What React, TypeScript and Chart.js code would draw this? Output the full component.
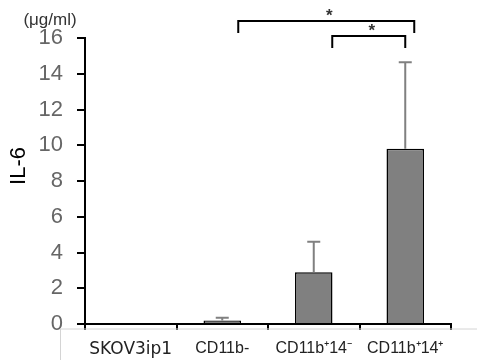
import React, { useEffect, useRef } from "react";
import { Chart, registerables } from "chart.js";

Chart.register(...registerables);

const categories = ["SKOV3ip1", "CD11b-", "CD11b\u207A14\u207B", "CD11b\u207A14\u207A"];
const means = [0, 0.2, 2.9, 9.8];
const errors = [0, 0.15, 1.7, 4.85];
const yMin = 0;
const yMax = 16;
const yStep = 2;
const comparisons: [number, number][] = [
  [1, 3],
  [2, 3],
];
const compLabels = ["*", "*"];
const unitLabel = "(\u03BCg/ml)";
const yTitle = "IL-6";

const annotatePlugin = {
  id: "annotate",
  afterDatasetsDraw(chart: any) {
    const { ctx } = chart;
    const x = chart.scales.x;
    const y = chart.scales.y;
    ctx.save();
    ctx.strokeStyle = "#808080";
    ctx.lineWidth = 2;
    means.forEach((m, i) => {
      const e = errors[i];
      if (!e) return;
      const cx = x.getPixelForValue(i);
      const y0 = y.getPixelForValue(m);
      const y1 = y.getPixelForValue(m + e);
      ctx.beginPath();
      ctx.moveTo(cx, y0);
      ctx.lineTo(cx, y1);
      ctx.moveTo(cx - 6.5, y1);
      ctx.lineTo(cx + 6.5, y1);
      ctx.stroke();
    });
    ctx.restore();
  },
  afterDraw(chart: any) {
    const { ctx, chartArea } = chart;
    const x = chart.scales.x;
    ctx.save();
    ctx.strokeStyle = "#d4d4d4";
    ctx.lineWidth = 1;
    ctx.beginPath();
    ctx.moveTo(60.5, chartArea.bottom + 5);
    ctx.lineTo(chart.width, chartArea.bottom + 5);
    ctx.moveTo(60.5, chartArea.bottom + 5);
    ctx.lineTo(60.5, chart.height);
    ctx.stroke();

    ctx.strokeStyle = "#000";
    ctx.lineWidth = 2;
    const specs = [
      { top: chartArea.top - 17, l: 16, r: 9 },
      { top: chartArea.top - 2, l: 18.5, r: 0 },
    ];
    comparisons.forEach(([a, b], k) => {
      const s = specs[k];
      const xl = x.getPixelForValue(a) + s.l;
      const xr = x.getPixelForValue(b) + s.r;
      ctx.beginPath();
      ctx.moveTo(xl, s.top + 12);
      ctx.lineTo(xl, s.top);
      ctx.lineTo(xr, s.top);
      ctx.lineTo(xr, s.top + 12);
      ctx.stroke();
      ctx.fillStyle = "#333";
      ctx.font = "bold 17px 'Liberation Sans', Arial, sans-serif";
      ctx.textAlign = "center";
      ctx.textBaseline = "middle";
      ctx.fillText(compLabels[k], (xl + xr) / 2 + 3, s.top - 5);
    });

    ctx.fillStyle = "#333";
    ctx.font = "17px 'Liberation Sans', Arial, sans-serif";
    ctx.textAlign = "center";
    ctx.textBaseline = "middle";
    ctx.fillText(unitLabel, 50, 20);

    ctx.save();
    ctx.translate(19, 166);
    ctx.rotate(-Math.PI / 2);
    ctx.fillStyle = "#000";
    ctx.font = "22px 'Liberation Sans', Arial, sans-serif";
    ctx.fillText(yTitle, 0, 0);
    ctx.restore();
    ctx.restore();
  },
};

export default function App() {
  const ref = useRef<HTMLCanvasElement>(null);
  useEffect(() => {
    if (!ref.current) return;
    const chart = new Chart(ref.current, {
      type: "bar",
      data: {
        labels: categories,
        datasets: [
          {
            data: means,
            backgroundColor: "#808080",
            borderColor: "#000",
            borderWidth: 1.5,
            categoryPercentage: 1,
            barPercentage: 0.41,
          },
        ],
      },
      options: {
        responsive: false,
        animation: false,
        layout: { padding: { top: 38, right: 26, left: 0, bottom: 0 } },
        plugins: { legend: { display: false }, tooltip: { enabled: false } },
        scales: {
          x: {
            grid: {
              offset: true,
              drawOnChartArea: false,
              drawTicks: true,
              tickLength: 6,
              color: "#000",
              lineWidth: 2,
            },
            border: { color: "#000", width: 2 },
            ticks: {
              color: "#222",
              padding: 9,
              maxRotation: 0,
              autoSkip: false,
              font: (c: any) =>
                c.index === 0
                  ? { family: "'DejaVu Sans', sans-serif", size: 17 }
                  : { family: "'Liberation Sans', Arial, sans-serif", size: 16 },
            },
            afterFit: (s: any) => {
              s.height = 36;
            },
          },
          y: {
            min: yMin,
            max: yMax,
            grid: {
              drawOnChartArea: false,
              drawTicks: true,
              tickLength: 8,
              color: "#000",
              lineWidth: 2,
            },
            border: { color: "#000", width: 2 },
            ticks: {
              stepSize: yStep,
              color: "#666",
              padding: 14,
              font: { family: "'Liberation Sans', Arial, sans-serif", size: 22 },
            },
            afterFit: (s: any) => {
              s.width = 85;
            },
          },
        },
      },
      plugins: [annotatePlugin],
    });
    return () => chart.destroy();
  }, []);
  return (
    <div style={{ position: "absolute", left: 0, top: 0, width: 477, height: 360, background: "#fff" }}>
      <canvas ref={ref} width={477} height={360} />
    </div>
  );
}
